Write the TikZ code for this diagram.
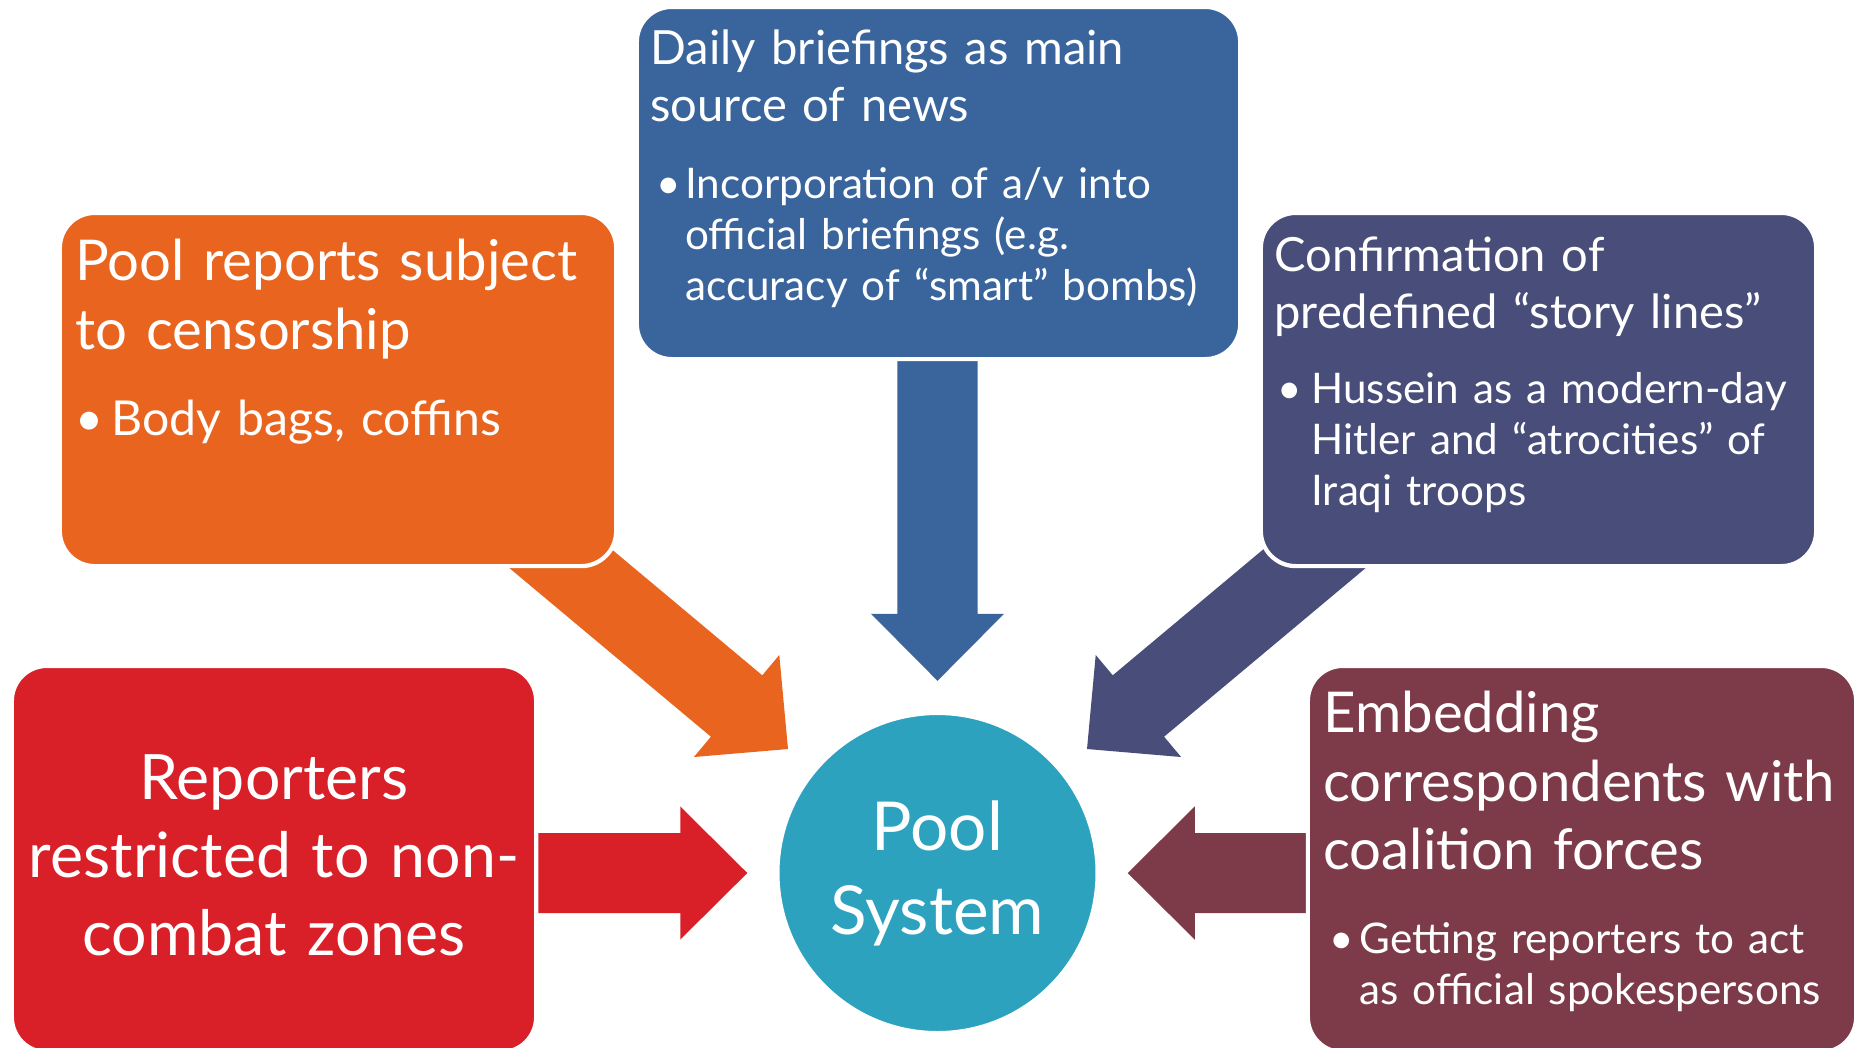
\documentclass[tikz,border=0pt]{standalone}
\usepackage{fontspec}
\setmainfont{Lato}
\usetikzlibrary{calc,positioning}
\definecolor{censororange}{RGB}{233, 101, 31}
\definecolor{briefblue}{RGB}{58, 100, 156}
\definecolor{storynavy}{RGB}{72, 77, 121}
\definecolor{restrictred}{RGB}{217, 32, 41}
\definecolor{embedmaroon}{RGB}{125, 59, 73}
\definecolor{poolteal}{RGB}{45, 162, 190}
\pgfdeclarelayer{background}
\pgfsetlayers{background,main}
\newcommand{\bul}[1]{\makebox[#1][l]{\textbullet}}
\newcommand{\blockarrow}[3]{%
	\coordinate (#2base) at ($(#2)!0.67cm!(#1)$);
	\fill[#3] ($(#1)!0.4cm!90:(#2)$) -- ($(#2base)!0.4cm!90:(#2)$) -- ($(#2base)!0.665cm!90:(#2)$) -- (#2) -- ($(#2base)!0.665cm!-90:(#2)$) -- ($(#2base)!0.4cm!-90:(#2)$) -- ($(#1)!0.4cm!-90:(#2)$) -- cycle;}
\tikzset{
	box/.style={rectangle, rounded corners=0.35cm, draw=white, line width=1.2pt, inner sep=0pt},
	boxtext/.style={text=white, anchor=base west, inner sep=0pt, text width=6cm, align=left},
	bigtitle/.style={font=\fontsize{16pt}{19.5pt}\selectfont},
	smalltitle/.style={font=\fontsize{13.4pt}{16.2pt}\selectfont},
	itemtext/.style={font=\fontsize{12pt}{14.5pt}\selectfont}
}

\begin{document}
\begin{tikzpicture}[x=0.01cm, y=-0.01cm]
			\useasboundingbox (0, 0) rectangle (1858, 1047);
			\node[box, fill=briefblue, minimum width=6.03cm, minimum height=3.52cm] (brief) at (938.5, 183) {};
			\node[box, fill=censororange, minimum width=5.56cm, minimum height=3.53cm] (censor) at (338, 389.5) {};
			\node[box, fill=storynavy, minimum width=5.55cm, minimum height=3.53cm] (story) at (1538.5, 389.5) {};
			\node[box, fill=restrictred, minimum width=5.24cm, minimum height=3.86cm] (restrict) at (274, 859) {};
			\node[box, fill=embedmaroon, minimum width=5.48cm, minimum height=3.86cm] (embed) at (1582, 859) {};
			\node[circle, fill=poolteal, draw=white, line width=1.2pt, inner sep=0pt, minimum size=3.2cm, text=white, text width=2.3cm, align=center, font=\fontsize{19.2pt}{23.9pt}\selectfont] (pool) at (937.5, 873) {Pool\\System};

			\node[boxtext, smalltitle] (briefhead) at ($(brief.north west)+(15, 60)$) {Daily briefings as main\\source of news};
			\node[boxtext, itemtext] (briefitem) at ($(brief.north west)+(21, 194)$) {\bul{0.29cm}Incorporation of a/v into\\\hspace*{0.29cm}official briefings (e.g.\\\hspace*{0.29cm}accuracy of “smart” bombs)};
			\node[boxtext, bigtitle] (censorhead) at ($(censor.north west)+(17, 70)$) {Pool reports subject\\to censorship};
			\node[boxtext, font=\fontsize{13.7pt}{16pt}\selectfont] (censoritem) at ($(censor.north west)+(17, 225)$) {\bul{0.36cm}Body bags, coffins};
			\node[boxtext, smalltitle] (storyhead) at ($(story.north west)+(15, 61)$) {Confirmation of\\predefined “story lines”};
			\node[boxtext, itemtext] (storyitem) at ($(story.north west)+(18, 193)$) {\bul{0.34cm}Hussein as a modern-day\\\hspace*{0.34cm}Hitler and “atrocities” of\\\hspace*{0.34cm}Iraqi troops};
			\node[boxtext, bigtitle] (embedhead) at ($(embed.north west)+(17, 69)$) {Embedding\\correspondents with\\coalition forces};
			\node[boxtext, itemtext] (embeditem) at ($(embed.north west)+(23, 290)$) {\bul{0.30cm}Getting reporters to act\\\hspace*{0.30cm}as official spokespersons};
			\node[boxtext, anchor=base, align=center, font=\fontsize{17.8pt}{22.2pt}\selectfont] (restricttext) at ($(restrict.north)+(0, 136)$) {Reporters\\restricted to non-\\combat zones};

			\begin{pgfonlayer}{background}
				\coordinate (briefFoot) at (brief -| pool);
				\coordinate (briefTip) at ($(pool.north)+(0, -30)$);
				\coordinate (censorFoot) at ($(censor.south east)+(-173, -106)$);
				\coordinate (censorTip) at ($(pool)+(-149.5, -124)$);
				\coordinate (storyFoot) at ($(story.south west)+(171, -106)$);
				\coordinate (storyTip) at ($(pool)+(149.5, -124)$);
				\coordinate (restrictFoot) at (pool -| restrict);
				\coordinate (restrictTip) at ($(pool.west)+(-28, 0)$);
				\coordinate (embedFoot) at (pool -| embed);
				\coordinate (embedTip) at ($(pool.east)+(28, 0)$);
				\blockarrow{briefFoot}{briefTip}{briefblue}
				\blockarrow{censorFoot}{censorTip}{censororange}
				\blockarrow{storyFoot}{storyTip}{storynavy}
				\blockarrow{restrictFoot}{restrictTip}{restrictred}
				\blockarrow{embedFoot}{embedTip}{embedmaroon}
			\end{pgfonlayer}
		\end{tikzpicture}
\end{document}
